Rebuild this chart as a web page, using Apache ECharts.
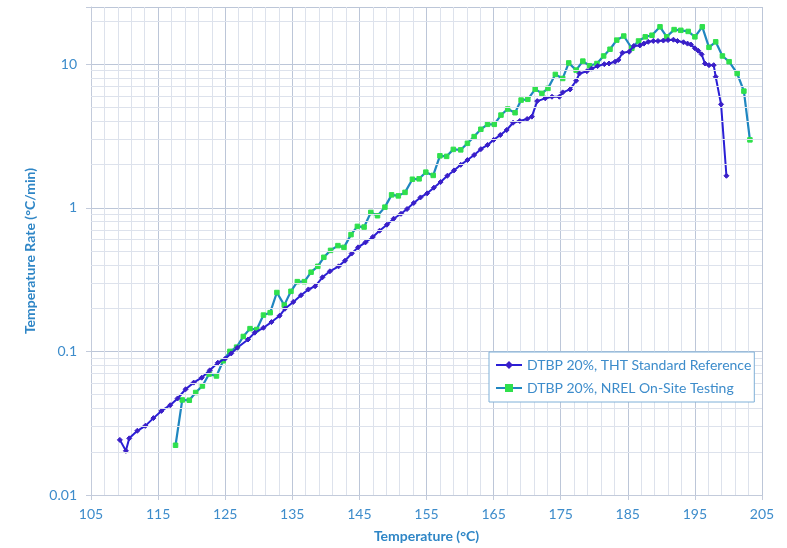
<!DOCTYPE html>
<html>
<head>
<meta charset="utf-8">
<script src="https://cdn.jsdelivr.net/npm/echarts@6/dist/echarts.min.js"></script>
<style>
html,body{margin:0;padding:0;background:#fff;}
#chart{width:787px;height:548px;}
</style>
</head>
<body>
<div id="chart"></div>
<script>
// ---- Data ----
const thtName = 'DTBP 20%, THT Standard Reference';
const nrelName = 'DTBP 20%, NREL On-Site Testing';

const thtTemp = [109.3,110.2,110.7,111.9,113.1,114.3,115.5,116.8,117.9,119.1,120.3,121.5,122.7,123.9,125.0,125.9,126.8,128.4,129.4,130.7,131.9,133.1,133.9,135.15,136.3,137.4,138.4,139.5,140.6,141.9,142.85,143.85,144.8,145.9,147.0,148.0,149.1,150.1,151.2,152.1,153.1,154.1,155.1,156.1,157.1,158.1,159.1,160.1,161.1,162.1,163.1,164.1,165.0,166.0,166.95,167.9,168.9,170.0,170.7,171.5,172.7,173.7,174.8,175.3,176.4,177.3,177.8,178.9,179.6,180.5,181.5,182.2,183.1,183.6,184.2,185.2,185.9,186.8,187.4,188.05,188.8,189.5,190.3,191.0,191.8,192.4,193.3,193.9,194.4,195.0,195.5,196.0,196.5,197.1,197.8,198.1,198.9,199.7];
const thtRate = [0.0242,0.0203,0.0248,0.028,0.0303,0.0343,0.0385,0.0422,0.047,0.0545,0.0606,0.0656,0.0738,0.0834,0.089,0.0968,0.106,0.121,0.135,0.146,0.160,0.177,0.198,0.221,0.246,0.27,0.284,0.328,0.361,0.391,0.428,0.48,0.53,0.574,0.626,0.692,0.762,0.839,0.908,0.98,1.08,1.18,1.26,1.38,1.51,1.67,1.82,1.99,2.15,2.33,2.56,2.74,2.97,3.21,3.48,3.91,4.02,4.15,4.31,5.53,5.78,5.93,5.93,6.36,6.67,7.66,8.61,8.93,9.3,9.7,10.0,10.1,10.4,10.7,12.0,12.2,13.4,13.5,13.9,14.3,14.5,14.5,14.6,14.7,14.8,14.5,14.2,13.9,13.7,12.9,12.4,11.7,10.1,9.84,9.84,8.17,5.25,1.67];

const nrelTemp = [117.6,118.6,119.65,120.6,121.6,122.6,123.7,124.7,125.7,126.7,127.7,128.7,129.7,130.7,131.7,132.7,133.8,134.8,135.75,136.8,137.8,138.8,139.7,140.7,141.8,142.7,143.75,144.7,145.7,146.7,147.7,148.8,149.8,150.8,151.8,152.9,153.9,154.9,156.0,157.0,158.0,159.0,160.1,161.1,162.1,163.1,164.1,165.1,166.1,167.1,168.2,169.1,170.1,171.2,172.2,173.1,174.2,175.3,176.2,177.3,178.3,179.3,180.4,181.4,182.35,183.35,184.4,185.6,186.6,187.6,188.6,189.8,190.8,191.9,192.9,194.0,195.0,196.1,197.1,198.1,199.1,200.1,201.3,202.3,203.2];
const nrelRate = [0.0222,0.0459,0.0457,0.0517,0.0574,0.0695,0.0674,0.086,0.100,0.107,0.127,0.144,0.142,0.179,0.186,0.257,0.21,0.262,0.306,0.306,0.356,0.391,0.452,0.505,0.545,0.53,0.65,0.742,0.734,0.928,0.88,1.01,1.23,1.21,1.28,1.58,1.59,1.77,1.68,2.3,2.28,2.55,2.53,2.81,3.13,3.52,3.81,3.81,4.42,4.87,4.59,5.62,5.69,6.7,6.26,6.78,8.48,7.95,10.2,9.09,10.5,9.75,10.1,11.4,12.7,14.7,15.7,12.9,14.5,15.5,15.9,18.2,15.5,17.4,17.2,16.9,15.5,18.2,13.1,14.3,11.4,10.4,8.61,6.49,2.97];

const yMajorLabels = ['0.01','0.1','1','10'];
const yMinorGrid = [0.02,0.03,0.04,0.05,0.06,0.07,0.08,0.09,0.2,0.3,0.4,0.5,0.6,0.7,0.8,0.9,2,3,4,5,6,7,8,9,20];

// ---- Chart ----
const FONT = 'Lato, "Open Sans", sans-serif';
const LABEL_COLOR = '#3d8ccb';
const pairs = (xs, ys) => xs.map((x, i) => [x, ys[i]]);

const chart = echarts.init(document.getElementById('chart'), null, {renderer: 'canvas'});
chart.setOption({
  animation: false,
  backgroundColor: '#ffffff',
  grid: {left: 91, right: 25, top: 7, bottom: 52, containLabel: false},
  xAxis: {
    type: 'value', min: 105, max: 205, interval: 10,
    name: 'Temperature (°C)', nameLocation: 'middle', nameGap: 34,
    nameTextStyle: {color: '#2f86c6', fontWeight: 'bold', fontSize: 14, fontFamily: FONT},
    axisLine: {show: true, lineStyle: {color: '#c3cbdb', width: 1}},
    axisTick: {show: true, length: 5, lineStyle: {color: '#c3cbdb'}},
    axisLabel: {color: LABEL_COLOR, fontSize: 14, fontFamily: FONT, margin: 12},
    splitLine: {show: true, lineStyle: {color: '#bcc6d8', width: 1}},
    minorTick: {show: false, splitNumber: 5},
    minorSplitLine: {show: true, lineStyle: {color: '#dde2ec', width: 1}}
  },
  yAxis: {
    type: 'log', logBase: 10, min: 0.01, max: 25,
    name: 'Temperature Rate (°C/min)', nameLocation: 'middle', nameGap: 54,
    nameTextStyle: {color: '#2f86c6', fontWeight: 'bold', fontSize: 14, fontFamily: FONT},
    axisLine: {show: true, lineStyle: {color: '#c3cbdb', width: 1}},
    axisTick: {show: true, length: 5, lineStyle: {color: '#c3cbdb'}},
    axisLabel: {
      color: LABEL_COLOR, fontSize: 14, fontFamily: FONT, margin: 14,
      formatter: function (v) {
        const l = Math.log10(v);
        if (Math.abs(l - Math.round(l)) < 1e-6) {
          const idx = Math.round(l) + 2;
          return yMajorLabels[idx] || '';
        }
        return '';
      }
    },
    splitLine: {show: true, lineStyle: {color: '#bcc6d8', width: 1}}
  },
  legend: {
    orient: 'vertical', left: 489, top: 352, z: 50, zlevel: 0,
    data: [thtName, nrelName],
    backgroundColor: '#ffffff',
    borderColor: '#7fb0d8', borderWidth: 1,
    padding: [6, 3, 7, 6], itemGap: 9,
    itemWidth: 26, itemHeight: 10,
    textStyle: {color: LABEL_COLOR, fontSize: 14, fontFamily: FONT}
  },
  series: [
    {
      name: 'minor-grid', type: 'line', data: [], silent: true, z: 0,
      markLine: {
        silent: true, symbol: ['none', 'none'], label: {show: false},
        lineStyle: {color: '#dde2ec', width: 1, type: 'solid'},
        emphasis: {disabled: true},
        data: yMinorGrid.map(v => ({yAxis: v}))
      }
    },
    {
      name: thtName, type: 'line', data: pairs(thtTemp, thtRate), z: 3,
      symbol: 'diamond', symbolSize: 5, showSymbol: true,
      lineStyle: {color: '#2a1fd6', width: 2},
      itemStyle: {color: '#3a1fc8', borderColor: '#3a1fc8'}
    },
    {
      name: nrelName, type: 'line', data: pairs(nrelTemp, nrelRate), z: 2,
      symbol: 'rect', symbolSize: 4.5, showSymbol: true,
      lineStyle: {color: '#1f86c0', width: 2.2},
      itemStyle: {color: '#2fe04c', borderColor: '#2fe04c'}
    }
  ]
});
</script>
</body>
</html>
